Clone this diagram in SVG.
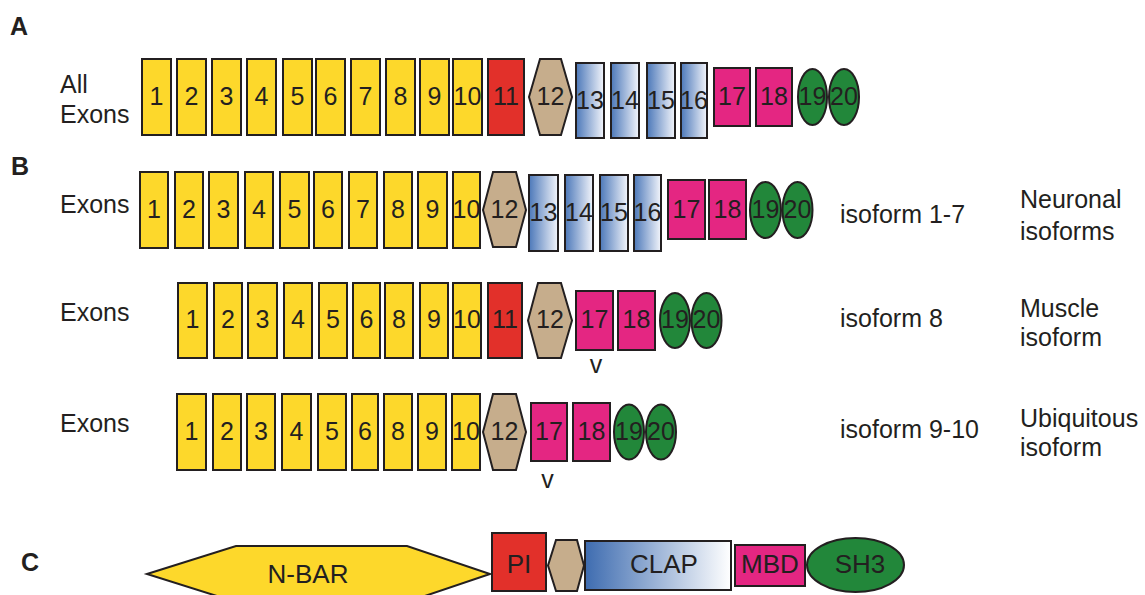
<svg xmlns="http://www.w3.org/2000/svg" width="1145" height="595" viewBox="0 0 1145 595">
<defs>
<linearGradient id="gb" x1="0" y1="0" x2="1" y2="0"><stop offset="0" stop-color="#4C78B9"/><stop offset="1" stop-color="#F3F5FB"/></linearGradient>
<linearGradient id="gc" x1="0" y1="0" x2="1" y2="0"><stop offset="0" stop-color="#3E6CB0"/><stop offset="1" stop-color="#FFFFFF"/></linearGradient>
<style>
.s{stroke:#231F20;stroke-width:2}
.y{fill:#FDD82B}.r{fill:#E2302A}.t{fill:#C6AD8C}.b{fill:url(#gb)}.m{fill:#E42682}.g{fill:#22873A}.c{fill:url(#gc)}
text{font-family:"Liberation Sans",Arial,sans-serif;fill:#231F20;font-size:25px}
.n{text-anchor:middle}
.h{font-weight:bold;font-size:25px}
.d{text-anchor:middle;font-size:26px}
</style>
</defs>
<rect width="1145" height="595" fill="#FFFFFF"/>
<g id="labels">
<text class="h" x="10" y="35">A</text>
<text class="h" x="11" y="175">B</text>
<text class="h" x="21" y="571">C</text>
<text x="60" y="93">All</text><text x="60" y="123">Exons</text>
<text x="60" y="213">Exons</text>
<text x="60" y="321">Exons</text>
<text x="60" y="432">Exons</text>
<text x="840" y="223">isoform 1-7</text>
<text x="840" y="327">isoform 8</text>
<text x="840" y="438">isoform 9-10</text>
<text x="1020" y="208">Neuronal</text><text x="1020" y="240">isoforms</text>
<text x="1020" y="317">Muscle</text><text x="1020" y="346">isoform</text>
<text x="1020" y="427">Ubiquitous</text><text x="1020" y="456">isoform</text>
<text class="n" x="596" y="373">v</text>
<text class="n" x="547.5" y="488">v</text>
</g>
<g id="rowA">
<g id="a1"><rect class="s y" x="142" y="59" width="29" height="76"/><text class="n" x="156.5" y="105">1</text></g>
<g id="a2"><rect class="s y" x="177" y="59" width="29" height="76"/><text class="n" x="191.5" y="105">2</text></g>
<g id="a3"><rect class="s y" x="212" y="59" width="29" height="76"/><text class="n" x="226.5" y="105">3</text></g>
<g id="a4"><rect class="s y" x="247" y="59" width="29" height="76"/><text class="n" x="261.5" y="105">4</text></g>
<g id="a5"><rect class="s y" x="283" y="59" width="29" height="76"/><text class="n" x="297.5" y="105">5</text></g>
<g id="a6"><rect class="s y" x="316" y="59" width="29" height="76"/><text class="n" x="330.5" y="105">6</text></g>
<g id="a7"><rect class="s y" x="351" y="59" width="29" height="76"/><text class="n" x="365.5" y="105">7</text></g>
<g id="a8"><rect class="s y" x="386" y="59" width="29" height="76"/><text class="n" x="400.5" y="105">8</text></g>
<g id="a9"><rect class="s y" x="420" y="59" width="29" height="76"/><text class="n" x="434.5" y="105">9</text></g>
<g id="a10"><rect class="s y" x="453" y="59" width="29" height="76"/><text class="n" x="467.5" y="105">10</text></g>
<g id="a11"><rect class="s r" x="488" y="59" width="36" height="76"/><text class="n" x="506" y="105">11</text></g>
<g id="a12"><polygon class="s t" points="529,97 540,59 561,59 572,97 561,135 540,135"/><text class="n" x="550.5" y="105">12</text></g>
<g id="a13"><rect class="s b" x="576" y="63" width="28" height="75"/><text class="n" x="590" y="109">13</text></g>
<g id="a14"><rect class="s b" x="611" y="63" width="28" height="75"/><text class="n" x="625" y="109">14</text></g>
<g id="a15"><rect class="s b" x="647" y="63" width="28" height="75"/><text class="n" x="661" y="109">15</text></g>
<g id="a16"><rect class="s b" x="681" y="63" width="26" height="75"/><text class="n" x="694" y="109">16</text></g>
<g id="a17"><rect class="s m" x="714" y="68" width="36" height="58"/><text class="n" x="732" y="105">17</text></g>
<g id="a18"><rect class="s m" x="756" y="68" width="36" height="58"/><text class="n" x="774" y="105">18</text></g>
<g id="a19"><ellipse class="s g" cx="812.5" cy="97" rx="14.5" ry="28"/><text class="n" x="812.5" y="105">19</text></g>
<g id="a20"><ellipse class="s g" cx="844" cy="97" rx="15" ry="28"/><text class="n" x="844" y="105">20</text></g>
</g>
<g id="rowB1">
<g id="b1_1"><rect class="s y" x="140" y="172" width="28" height="76"/><text class="n" x="154" y="218">1</text></g>
<g id="b1_2"><rect class="s y" x="175" y="172" width="28" height="76"/><text class="n" x="189" y="218">2</text></g>
<g id="b1_3"><rect class="s y" x="209" y="172" width="29" height="76"/><text class="n" x="223.5" y="218">3</text></g>
<g id="b1_4"><rect class="s y" x="245" y="172" width="28" height="76"/><text class="n" x="259" y="218">4</text></g>
<g id="b1_5"><rect class="s y" x="280" y="172" width="29" height="76"/><text class="n" x="294.5" y="218">5</text></g>
<g id="b1_6"><rect class="s y" x="314" y="172" width="28" height="76"/><text class="n" x="328" y="218">6</text></g>
<g id="b1_7"><rect class="s y" x="349" y="172" width="28" height="76"/><text class="n" x="363" y="218">7</text></g>
<g id="b1_8"><rect class="s y" x="384" y="172" width="28" height="76"/><text class="n" x="398" y="218">8</text></g>
<g id="b1_9"><rect class="s y" x="418" y="172" width="29" height="76"/><text class="n" x="432.5" y="218">9</text></g>
<g id="b1_10"><rect class="s y" x="453" y="172" width="27" height="76"/><text class="n" x="466.5" y="218">10</text></g>
<g id="b1_12"><polygon class="s t" points="483,210 493,172 516,172 526,210 516,247 493,247"/><text class="n" x="504.5" y="218">12</text></g>
<g id="b1_13"><rect class="s b" x="529" y="175" width="29" height="76"/><text class="n" x="543.5" y="221">13</text></g>
<g id="b1_14"><rect class="s b" x="565" y="175" width="28" height="76"/><text class="n" x="579" y="221">14</text></g>
<g id="b1_15"><rect class="s b" x="600" y="175" width="28" height="76"/><text class="n" x="614" y="221">15</text></g>
<g id="b1_16"><rect class="s b" x="634" y="175" width="27" height="76"/><text class="n" x="647.5" y="221">16</text></g>
<g id="b1_17"><rect class="s m" x="668" y="180" width="37" height="59"/><text class="n" x="686.5" y="218">17</text></g>
<g id="b1_18"><rect class="s m" x="709" y="180" width="37" height="59"/><text class="n" x="727.5" y="218">18</text></g>
<g id="b1_19"><ellipse class="s g" cx="765.5" cy="210" rx="15.5" ry="28"/><text class="n" x="765.5" y="218">19</text></g>
<g id="b1_20"><ellipse class="s g" cx="797.5" cy="210" rx="15" ry="28"/><text class="n" x="797.5" y="218">20</text></g>
</g>
<g id="rowB2">
<g id="b2_1"><rect class="s y" x="178" y="283" width="29" height="75"/><text class="n" x="192.5" y="328">1</text></g>
<g id="b2_2"><rect class="s y" x="214" y="283" width="28" height="75"/><text class="n" x="228" y="328">2</text></g>
<g id="b2_3"><rect class="s y" x="248" y="283" width="29" height="75"/><text class="n" x="262.5" y="328">3</text></g>
<g id="b2_4"><rect class="s y" x="284" y="283" width="28" height="75"/><text class="n" x="298" y="328">4</text></g>
<g id="b2_5"><rect class="s y" x="319" y="283" width="28" height="75"/><text class="n" x="333" y="328">5</text></g>
<g id="b2_6"><rect class="s y" x="353" y="283" width="27" height="75"/><text class="n" x="366.5" y="328">6</text></g>
<g id="b2_8"><rect class="s y" x="385" y="283" width="28" height="75"/><text class="n" x="399" y="328">8</text></g>
<g id="b2_9"><rect class="s y" x="420" y="283" width="28" height="75"/><text class="n" x="434" y="328">9</text></g>
<g id="b2_10"><rect class="s y" x="453" y="283" width="28" height="75"/><text class="n" x="467" y="328">10</text></g>
<g id="b2_11"><rect class="s r" x="488" y="283" width="34" height="75"/><text class="n" x="505" y="328">11</text></g>
<g id="b2_12"><polygon class="s t" points="528,320.5 538,283 561,283 572,320.5 561,358 538,358"/><text class="n" x="550" y="328">12</text></g>
<g id="b2_17"><rect class="s m" x="576" y="291" width="37" height="59"/><text class="n" x="594.5" y="328">17</text></g>
<g id="b2_18"><rect class="s m" x="618" y="291" width="37" height="59"/><text class="n" x="636.5" y="328">18</text></g>
<g id="b2_19"><ellipse class="s g" cx="675" cy="320.5" rx="15" ry="27.5"/><text class="n" x="675" y="328">19</text></g>
<g id="b2_20"><ellipse class="s g" cx="706.5" cy="320.5" rx="15" ry="27.5"/><text class="n" x="706.5" y="328">20</text></g>
</g>
<g id="rowB3">
<g id="b3_1"><rect class="s y" x="177" y="394" width="29" height="76"/><text class="n" x="191.5" y="440">1</text></g>
<g id="b3_2"><rect class="s y" x="213" y="394" width="28" height="76"/><text class="n" x="227" y="440">2</text></g>
<g id="b3_3"><rect class="s y" x="247" y="394" width="28" height="76"/><text class="n" x="261" y="440">3</text></g>
<g id="b3_4"><rect class="s y" x="282" y="394" width="29" height="76"/><text class="n" x="296.5" y="440">4</text></g>
<g id="b3_5"><rect class="s y" x="318" y="394" width="28" height="76"/><text class="n" x="332" y="440">5</text></g>
<g id="b3_6"><rect class="s y" x="352" y="394" width="26" height="76"/><text class="n" x="365" y="440">6</text></g>
<g id="b3_8"><rect class="s y" x="384" y="394" width="28" height="76"/><text class="n" x="398" y="440">8</text></g>
<g id="b3_9"><rect class="s y" x="418" y="394" width="28" height="76"/><text class="n" x="432" y="440">9</text></g>
<g id="b3_10"><rect class="s y" x="452" y="394" width="28" height="76"/><text class="n" x="466" y="440">10</text></g>
<g id="b3_12"><polygon class="s t" points="483,432 493,394 516,394 526,432 516,470 493,470"/><text class="n" x="504.5" y="440">12</text></g>
<g id="b3_17"><rect class="s m" x="531" y="403" width="36" height="58"/><text class="n" x="549" y="440">17</text></g>
<g id="b3_18"><rect class="s m" x="573" y="403" width="37" height="58"/><text class="n" x="591.5" y="440">18</text></g>
<g id="b3_19"><ellipse class="s g" cx="629" cy="432" rx="15" ry="27.5"/><text class="n" x="629" y="440">19</text></g>
<g id="b3_20"><ellipse class="s g" cx="661" cy="432" rx="15" ry="27.5"/><text class="n" x="661" y="440">20</text></g>
</g>
<g id="rowC">
<g id="nbar"><polygon class="s y" points="147,574 236,546 407,546 490,574 407,602 236,602"/><text class="d" x="308" y="583">N-BAR</text></g>
<g id="pi"><rect class="s r" x="492" y="533" width="54" height="58"/><text class="d" x="519" y="573">PI</text></g>
<g id="hexC"><polygon class="s t" points="548,565.5 556,540 577,540 584,565.5 577,591 556,591"/></g>
<g id="clap"><rect class="s c" x="585" y="541" width="146" height="49"/><text class="d" x="664" y="573">CLAP</text></g>
<g id="mbd"><rect class="s m" x="735" y="545" width="70" height="41"/><text class="d" x="770" y="573">MBD</text></g>
<g id="sh3"><ellipse class="s g" cx="855.5" cy="565" rx="48.5" ry="27"/><text class="d" x="860" y="573">SH3</text></g>
</g>
<g id="connectors"/>
</svg>
